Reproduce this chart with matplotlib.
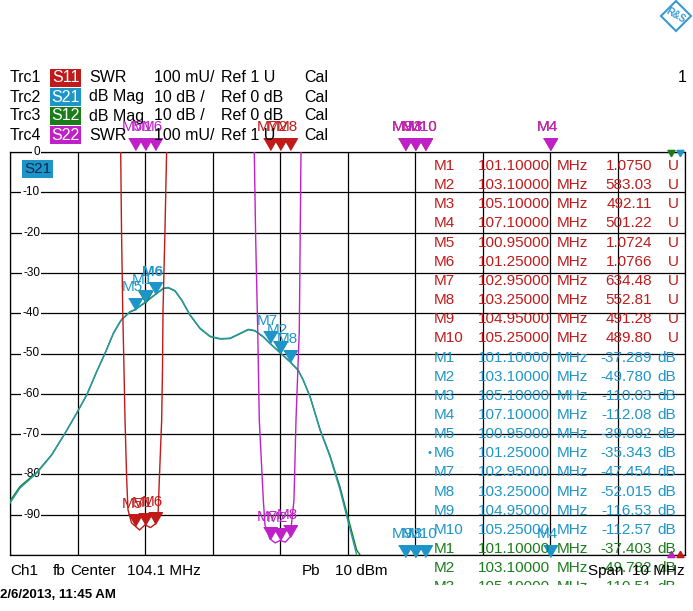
import numpy as np
import matplotlib
matplotlib.use('Agg')
import matplotlib.pyplot as plt
from matplotlib.patches import Rectangle, Polygon
from matplotlib.transforms import blended_transform_factory

plt.rcParams['font.family'] = ['Liberation Sans', 'DejaVu Sans']

W, H = 693, 611

# sweep: center 104.1 MHz, span 10 MHz
f_start, f_stop = 99.1, 109.1

# S21 trace (MHz, dB)
s21_freq = [99.1, 99.248, 99.496, 99.718, 99.915, 100.088, 100.236, 100.384, 100.507, 100.63,
            100.73, 100.755, 100.878, 100.95, 101.1, 101.25, 101.371, 101.445, 101.544, 101.644,
            101.767, 101.915, 102.063, 102.211, 102.359, 102.507, 102.63, 102.73, 102.853, 102.95,
            103.1, 103.25, 103.37, 103.444, 103.544, 103.693, 103.84, 103.99, 104.09, 104.236,
            104.5, 105.1, 106.0, 107.1, 108.0, 109.1]
s21_db = [-87.1, -83.4, -79.7, -75.2, -69.8, -64.8, -60.3, -54.5, -49.95, -44.99,
          -42.1, -41.5, -39.6, -39.09, -37.29, -35.34, -33.8, -33.6, -34.4, -36.7,
          -40.4, -43.7, -45.7, -46.3, -46.2, -45.0, -44.0, -44.3, -45.8, -47.45,
          -49.78, -52.02, -54.1, -56.6, -60.7, -69.0, -75.6, -83.9, -90.5, -100.0,
          -106.0, -110.0, -113.0, -112.1, -115.0, -118.0]

# S12 trace, almost on top of S21
s12_freq = s21_freq
s12_db = [-86.6, -83.0, -79.5, -75.1, -69.8, -64.8, -60.3, -54.5, -50.0, -45.1,
          -42.2, -41.6, -39.7, -39.2, -37.4, -35.4, -33.9, -33.7, -34.5, -36.8,
          -40.5, -43.8, -45.8, -46.4, -46.3, -45.1, -44.1, -44.4, -45.9, -47.5,
          -49.78, -52.1, -54.2, -56.6, -60.6, -68.8, -75.3, -83.2, -89.6, -98.8,
          -105.0, -110.51, -113.5, -112.5, -115.5, -118.5]

# S11 SWR trace
s11_freq = [99.1, 100.70, 100.74, 100.752, 100.77, 100.789, 100.804, 100.829, 100.848, 100.9,
            100.95, 101.02, 101.1, 101.18, 101.25, 101.293, 101.312, 101.347, 101.359, 101.367,
            101.396, 101.42, 101.46, 103.1, 109.1]
s11_swr = [400, 2.6, 2.0, 1.806, 1.608, 1.459, 1.335, 1.186, 1.112, 1.08,
           1.0724, 1.062, 1.075, 1.068, 1.0766, 1.099, 1.186, 1.335, 1.459, 1.608,
           1.806, 2.0, 2.6, 583.03, 480]

# S22 SWR trace
s22_freq = [99.1, 101.1, 102.69, 102.719, 102.74, 102.77, 102.793, 102.853, 102.878, 102.95,
            103.03, 103.1, 103.18, 103.25, 103.307, 103.337, 103.386, 103.411, 103.44, 105.1, 109.1]
s22_swr = [600, 560, 2.6, 2.0, 1.782, 1.558, 1.335, 1.136, 1.074, 1.040,
           1.03, 1.036, 1.032, 1.045, 1.136, 1.335, 1.558, 2.0, 2.6, 480, 500]

# markers
marker_names = ['M1', 'M2', 'M3', 'M4', 'M5', 'M6', 'M7', 'M8', 'M9', 'M10']
marker_freq = [101.1, 103.1, 105.1, 107.1, 100.95, 101.25, 102.95, 103.25, 104.95, 105.25]
s11_mk = [1.0750, 583.03, 492.11, 501.22, 1.0724, 1.0766, 634.48, 552.81, 491.28, 489.80]
s21_mk = [-37.289, -49.780, -110.03, -112.08, -39.092, -35.343, -47.454, -52.015, -116.53, -112.57]
s12_mk = [-37.403, -49.782, -110.51]
s22_mk = [610.0, 1.036, 480.0, 500.0, 620.0, 560.0, 1.040, 1.045, 490.0, 485.0]

s11_txt = ['1.0750', '583.03', '492.11', '501.22', '1.0724', '1.0766', '634.48', '552.81', '491.28', '489.80']
s21_txt = ['-37.289', '-49.780', '-110.03', '-112.08', '-39.092', '-35.343', '-47.454', '-52.015', '-116.53', '-112.57']
s12_txt = ['-37.403', '-49.782', '-110.51']

db_ticks = [0, -10, -20, -30, -40, -50, -60, -70, -80, -90]

red = '#c01a1a'
cyan = '#1e95c8'
teal = '#2698ae'
green = '#1a7d1a'
magenta = '#c020c8'


def put(x, y, s, **kw):
    kw.setdefault('va', 'center')
    kw.setdefault('fontsize', 11)
    return fig.text(x / W, 1 - y / H, s, **kw)


fig = plt.figure(figsize=(W / 100, H / 100), dpi=100)
ax = fig.add_axes([10 / W, 1 - 555 / H, 675 / W, 403 / H])
ax.set_xlim(f_start, f_stop)
ax.set_ylim(-100, 0)
ax.set_xticks(np.linspace(f_start, f_stop, 11))
ax.set_yticks(np.arange(-100, 1, 10))
ax.tick_params(length=0, labelleft=False, labelbottom=False)
ax.grid(True, color='black', lw=0.9)
for sp in ax.spines.values():
    sp.set_color('black')
    sp.set_linewidth(0.9)

ax2 = ax.twinx()
ax2.set_ylim(1, 2)
ax2.set_yticks([])
ax2.tick_params(length=0, labelright=False)
for sp in ax2.spines.values():
    sp.set_visible(False)

for v in db_ticks:
    ax.text(99.545, v, str(v), ha='right', va='center', fontsize=8.5,
            bbox=dict(facecolor='white', edgecolor='none', pad=1.0), zorder=3)

ax.plot(s12_freq, s12_db, color=green, lw=1.0, zorder=4)
ax.plot(s21_freq, s21_db, color=teal, lw=1.0, zorder=4)
ax2.plot(s11_freq, s11_swr, color=red, lw=1.0, zorder=4)
ax2.plot(s22_freq, s22_swr, color=magenta, lw=1.0, zorder=4)

tri = [(-0.58, 1.0), (0.58, 1.0), (0.0, 0.0)]


def draw_markers(a, names, freqs, values, lo, hi, color, active=None, labels=True):
    blend = blended_transform_factory(a.transData, a.transAxes)
    for name, f, v in zip(names, freqs, values):
        if v > hi:
            trans, y = blend, 1.006
        elif v < lo:
            trans, y = blend, -0.004
        else:
            trans, y = a.transData, v
        a.plot([f], [y], transform=trans, marker=tri, ms=17, color=color,
               ls='none', clip_on=False, zorder=6)
        if labels:
            a.annotate(name, (f, y), xycoords=trans, xytext=(-2, 16),
                       textcoords='offset points', ha='center', va='center',
                       color=color, fontsize=11,
                       fontweight='bold' if name == active else 'normal',
                       annotation_clip=False, zorder=6)


draw_markers(ax, marker_names[:3], marker_freq[:3], s12_mk, -100, 0, green, labels=False)
draw_markers(ax, marker_names, marker_freq, s21_mk, -100, 0, cyan, active='M6')
draw_markers(ax2, marker_names, marker_freq, s11_mk, 1, 2, red)
draw_markers(ax2, marker_names, marker_freq, s22_mk, 1, 2, magenta)

# reference position arrows at the right edge
ax.plot([f_stop - 0.2], [0], marker=(3, 0, 180), ms=6, color=green, clip_on=False, zorder=7)
ax.plot([f_stop - 0.07], [0], marker=(3, 0, 180), ms=6, color=cyan, clip_on=False, zorder=7)
ax2.plot([f_stop - 0.2], [1], marker=(3, 0, 0), ms=6, color=magenta, clip_on=False, zorder=7)
ax2.plot([f_stop - 0.07], [1], marker=(3, 0, 0), ms=6, color=red, clip_on=False, zorder=7)

# trace box inside the diagram
put(37.5, 169, 'S21', ha='center', color='#0a2a50',
    bbox=dict(facecolor=cyan, edgecolor='none', pad=1.5))

# header
traces = ['Trc1', 'Trc2', 'Trc3', 'Trc4']
params = ['S11', 'S21', 'S12', 'S22']
formats = ['SWR', 'dB Mag', 'dB Mag', 'SWR']
scales = ['100 mU/', '10 dB /', '10 dB /', '100 mU/']
refs = ['Ref 1 U', 'Ref 0 dB', 'Ref 0 dB', 'Ref 1 U']
box_colors = [red, cyan, green, magenta]
for i in range(4):
    y = 78 + 19 * i
    put(10, y, traces[i], fontsize=11.5)
    fig.add_artist(Rectangle((50 / W, 1 - (y + 9) / H), 31 / W, 18 / H,
                             transform=fig.transFigure, facecolor=box_colors[i],
                             edgecolor='none'))
    put(65.5, y, params[i], ha='center', color='white', fontsize=11.5)
    put(89, y, formats[i], fontsize=11.5)
    put(154, y, scales[i], fontsize=11.5)
    put(221, y, refs[i], fontsize=11.5)
    put(304, y, 'Cal', fontsize=11.5)
put(678, 78, '1', fontsize=11.5)

# R&S logo
cx, cy, r = 676, 16, 15
fig.add_artist(Polygon([((cx - r) / W, 1 - cy / H), (cx / W, 1 - (cy - r) / H),
                        ((cx + r) / W, 1 - cy / H), (cx / W, 1 - (cy + r) / H)],
                       closed=True, transform=fig.transFigure, facecolor='white',
                       edgecolor='#3a9ad2', lw=1.5))
put(cx, cy, 'R&S', ha='center', fontsize=7, color='#3a9ad2', fontweight='bold',
    rotation=-30)

# marker table
rows = []
for i in range(10):
    rows.append((marker_names[i], marker_freq[i], s11_txt[i], 'U', red, False))
for i in range(10):
    rows.append((marker_names[i], marker_freq[i], s21_txt[i], 'dB', cyan, marker_names[i] == 'M6'))
for i in range(3):
    rows.append((marker_names[i], marker_freq[i], s12_txt[i], 'dB', green, False))

for k, (name, f, val, unit, c, act) in enumerate(rows):
    y = 166 + 19.15 * k
    if act:
        put(429, y, '\u2022', ha='center', color=c, fontsize=8, zorder=3)
    put(434, y, name, color=c, zorder=3)
    put(478, y, '%.5f' % f, color=c, zorder=3)
    put(557, y, 'MHz', color=c, zorder=3)
    put(652, y, val, ha='right', color=c, zorder=3)
    put(668 if unit == 'U' else 657, y, unit, color=c, zorder=3)

# footer
put(10, 571, 'Ch1', zorder=3)
put(53, 571, 'fb', zorder=3)
put(70, 571, 'Center', zorder=3)
put(127, 571, '104.1 MHz', zorder=3)
put(302, 571, 'Pb', zorder=3)
put(335, 571, '10 dBm', zorder=3)
put(685, 571, 'Span  10 MHz', ha='right', zorder=3)

fig.add_artist(Rectangle((0, 0), 1, 1 - 585 / H, transform=fig.transFigure,
                         facecolor='white', edgecolor='none', zorder=4))
put(0, 595, '2/6/2013, 11:45 AM', fontsize=9.5, fontweight='bold', zorder=5)

fig.savefig('out.png', dpi=100)
